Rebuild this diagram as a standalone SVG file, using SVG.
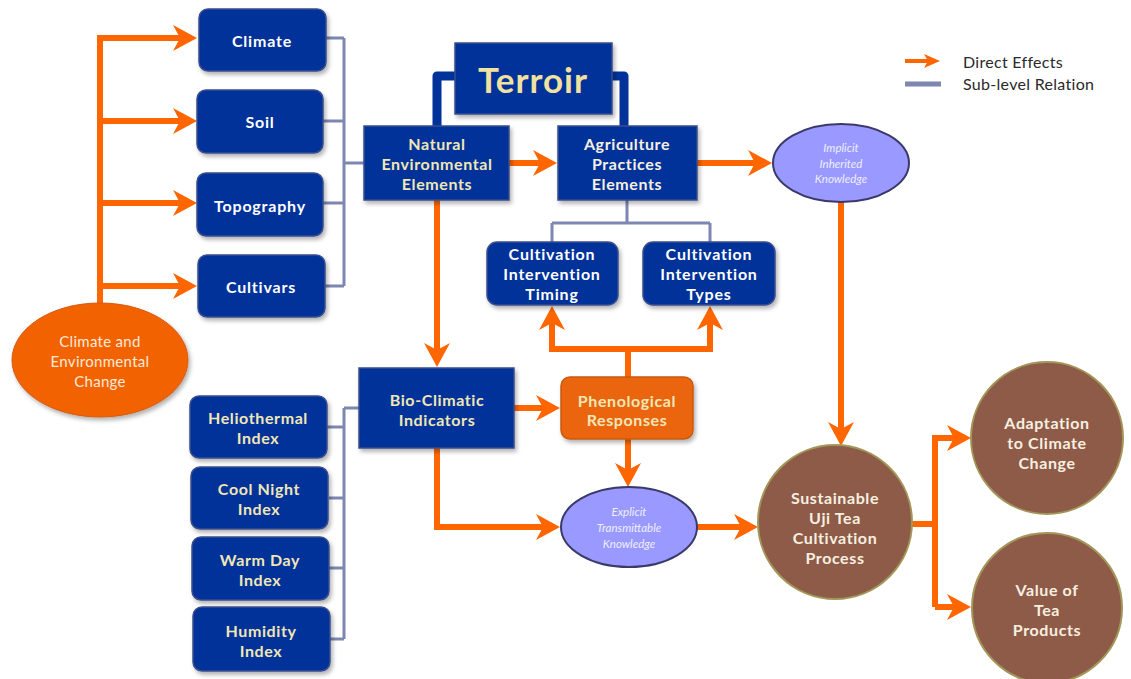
<svg xmlns="http://www.w3.org/2000/svg" width="1131" height="679" viewBox="0 0 1131 679">
<style>
.box{fill:#003399;stroke:#3A4D8C;stroke-width:1.5}
.obox{fill:#EA6508;stroke:#C85A10;stroke-width:1.5}
.ell{fill:#9999FF;stroke:#3A3A6A;stroke-width:2}
.brown{fill:#8E5B48;stroke:#A39659;stroke-width:2}
.cce{fill:#F26405;stroke:#D45A10;stroke-width:1}
.sub{fill:none;stroke:#7E86B2;stroke-width:3}
.dir{fill:none;stroke:#FF6600;stroke-width:6}
.tb{fill:none;stroke:#003399;stroke-width:9;stroke-linejoin:round}
text{font-family:Lato,"Open Sans","Liberation Sans",sans-serif;text-anchor:middle;dominant-baseline:central}
.w{fill:#FFFFFF;font-weight:bold;font-size:16px;letter-spacing:0.8px}
.c{fill:#F1E7B6;font-weight:bold;font-size:16px;letter-spacing:0.6px}
.i{fill:#EEEEFF;font-style:italic;font-size:11.5px}
.bw{fill:#F7F0E0;font-weight:bold;font-size:16px;letter-spacing:0.6px}
.cc{fill:#FBE9D9;font-size:15px;letter-spacing:0.3px}
.leg{fill:#2A2A2A;font-size:16px;letter-spacing:0.3px;text-anchor:start}
</style>
<defs>
<marker id="ah" markerUnits="userSpaceOnUse" viewBox="0 0 24 26" markerWidth="24" markerHeight="26" refX="8" refY="13" orient="auto">
<path d="M0,0 L24,13 L0,26 L7,13 Z" fill="#FF6600"/>
</marker>
<marker id="ahs" markerUnits="userSpaceOnUse" viewBox="0 0 16 14" markerWidth="16" markerHeight="14" refX="4" refY="7" orient="auto">
<path d="M0,0 L16,7 L0,14 L4,7 Z" fill="#FF6600"/>
</marker>
<filter id="sh" x="-10%" y="-10%" width="130%" height="140%">
<feDropShadow dx="2" dy="3" stdDeviation="2" flood-color="#000" flood-opacity="0.3"/>
</filter>
</defs>
<rect width="1131" height="679" fill="#FFFFFF"/>

<g id="connectors">
<path class="tb" d="M455,76 H437 V127"/>
<path class="tb" d="M612,76 H624 V127"/>
<path class="sub" d="M325,38 H344 M323,121 H344 M323,203 H344 M325,286 H344 M344,38 V286 M344,163 H364"/>
<path class="sub" d="M627,200 V223 M552,223 H710 M552,223 V242 M710,223 V242"/>
<path class="sub" d="M327,427 H344 M329,498 H344 M329,568 H344 M330,639 H344 M344,408 V639 M344,408 H359"/>
<path class="dir" d="M100,305 V38 H181" marker-end="url(#ah)"/>
<path class="dir" d="M100,121 H181" marker-end="url(#ah)"/>
<path class="dir" d="M100,203 H181" marker-end="url(#ah)"/>
<path class="dir" d="M100,286 H181" marker-end="url(#ah)"/>
<path class="dir" d="M509,163 H541" marker-end="url(#ah)"/>
<path class="dir" d="M697,163 H756" marker-end="url(#ah)"/>
<path class="dir" d="M841,202 V430" marker-end="url(#ah)"/>
<path class="dir" d="M437,200 V351" marker-end="url(#ah)"/>
<path class="dir" d="M514,408 H544" marker-end="url(#ah)"/>
<path class="dir" d="M628,377 V349 H552 V322" marker-end="url(#ah)"/>
<path class="dir" d="M628,349 H710 V322" marker-end="url(#ah)"/>
<path class="dir" d="M628,439 V471" marker-end="url(#ah)"/>
<path class="dir" d="M437,448 V527 H544" marker-end="url(#ah)"/>
<path class="dir" d="M697,527 H742" marker-end="url(#ah)"/>
<path class="dir" d="M912,524 H935"/>
<path class="dir" d="M935,607 V438 H955" marker-end="url(#ah)"/>
<path class="dir" d="M935,607 H955" marker-end="url(#ah)"/>
</g>

<g id="legend">
<path d="M905,61 H928" fill="none" stroke="#FF6600" stroke-width="4" marker-end="url(#ahs)"/>
<text class="leg" x="963" y="61">Direct Effects</text>
<path d="M905,84 H941" fill="none" stroke="#7E86B2" stroke-width="5"/>
<text class="leg" x="963" y="83">Sub-level Relation</text>
</g>

<g id="climate">
<rect class="box" x="199" y="9" width="127" height="62" rx="9" filter="url(#sh)"/>
<text class="w" x="262" y="40">Climate</text>
</g>
<g id="soil">
<rect class="box" x="197" y="90" width="126" height="63" rx="9" filter="url(#sh)"/>
<text class="w" x="260" y="121">Soil</text>
</g>
<g id="topography">
<rect class="box" x="197" y="173" width="126" height="63" rx="9" filter="url(#sh)"/>
<text class="w" x="260" y="205">Topography</text>
</g>
<g id="cultivars">
<rect class="box" x="198" y="255" width="127" height="62" rx="9" filter="url(#sh)"/>
<text class="w" x="261" y="286">Cultivars</text>
</g>

<g id="climate-change">
<ellipse class="cce" cx="100" cy="360" rx="88" ry="57" filter="url(#sh)"/>
<text class="cc" x="100" y="341">Climate and</text>
<text class="cc" x="100" y="361">Environmental</text>
<text class="cc" x="100" y="381">Change</text>
</g>

<g id="terroir">
<rect class="box" x="455" y="43" width="157" height="71" filter="url(#sh)"/>
<text x="533" y="79" fill="#F2E29F" font-weight="bold" font-size="35" letter-spacing="1">Terroir</text>
</g>

<g id="natural">
<rect class="box" x="364" y="126" width="145" height="74" filter="url(#sh)"/>
<text class="c" x="437" y="143">Natural</text>
<text class="c" x="437" y="163">Environmental</text>
<text class="c" x="437" y="183">Elements</text>
</g>

<g id="agriculture">
<rect class="box" x="558" y="126" width="139" height="74" filter="url(#sh)"/>
<text class="bw" x="627" y="143">Agriculture</text>
<text class="bw" x="627" y="163">Practices</text>
<text class="bw" x="627" y="183">Elements</text>
</g>

<g id="implicit">
<ellipse class="ell" cx="841" cy="163" rx="68" ry="39"/>
<text class="i" x="841" y="147">Implicit</text>
<text class="i" x="841" y="163">Inherited</text>
<text class="i" x="841" y="178">Knowledge</text>
</g>

<g id="timing">
<rect class="box" x="487" y="242" width="131" height="63" rx="10" filter="url(#sh)"/>
<text class="w" x="552" y="253">Cultivation</text>
<text class="w" x="552" y="273">Intervention</text>
<text class="w" x="552" y="293">Timing</text>
</g>
<g id="types">
<rect class="box" x="643" y="242" width="132" height="63" rx="10" filter="url(#sh)"/>
<text class="w" x="709" y="253">Cultivation</text>
<text class="w" x="709" y="273">Intervention</text>
<text class="w" x="709" y="293">Types</text>
</g>

<g id="bioclimatic">
<rect class="box" x="359" y="368" width="155" height="80" filter="url(#sh)"/>
<text class="c" x="437" y="399">Bio-Climatic</text>
<text class="c" x="437" y="419">Indicators</text>
</g>

<g id="phenological">
<rect class="obox" x="561" y="377" width="132" height="62" rx="9" filter="url(#sh)"/>
<text class="c" x="627" y="400">Phenological</text>
<text class="c" x="627" y="419">Responses</text>
</g>

<g id="explicit">
<ellipse class="ell" cx="629" cy="527" rx="68" ry="40"/>
<text class="i" x="629" y="511">Explicit</text>
<text class="i" x="629" y="527">Transmittable</text>
<text class="i" x="629" y="543">Knowledge</text>
</g>

<g id="heliothermal">
<rect class="box" x="190" y="396" width="137" height="62" rx="9" filter="url(#sh)"/>
<text class="c" x="258" y="417">Heliothermal</text>
<text class="c" x="258" y="437">Index</text>
</g>
<g id="coolnight">
<rect class="box" x="191" y="467" width="137" height="62" rx="9" filter="url(#sh)"/>
<text class="c" x="259" y="488">Cool Night</text>
<text class="c" x="259" y="508">Index</text>
</g>
<g id="warmday">
<rect class="box" x="192" y="537" width="137" height="63" rx="9" filter="url(#sh)"/>
<text class="c" x="260" y="559">Warm Day</text>
<text class="c" x="260" y="579">Index</text>
</g>
<g id="humidity">
<rect class="box" x="193" y="607" width="137" height="64" rx="9" filter="url(#sh)"/>
<text class="c" x="261" y="630">Humidity</text>
<text class="c" x="261" y="650">Index</text>
</g>

<g id="sustainable">
<circle class="brown" cx="835" cy="522" r="77"/>
<text class="bw" x="835" y="497">Sustainable</text>
<text class="bw" x="835" y="517">Uji Tea</text>
<text class="bw" x="835" y="537">Cultivation</text>
<text class="bw" x="835" y="557">Process</text>
</g>

<g id="adaptation">
<circle class="brown" cx="1047" cy="438" r="76"/>
<text class="bw" x="1047" y="422">Adaptation</text>
<text class="bw" x="1047" y="442">to Climate</text>
<text class="bw" x="1047" y="462">Change</text>
</g>

<g id="value">
<circle class="brown" cx="1047" cy="608" r="75"/>
<text class="bw" x="1047" y="589">Value of</text>
<text class="bw" x="1047" y="609">Tea</text>
<text class="bw" x="1047" y="629">Products</text>
</g>
</svg>
